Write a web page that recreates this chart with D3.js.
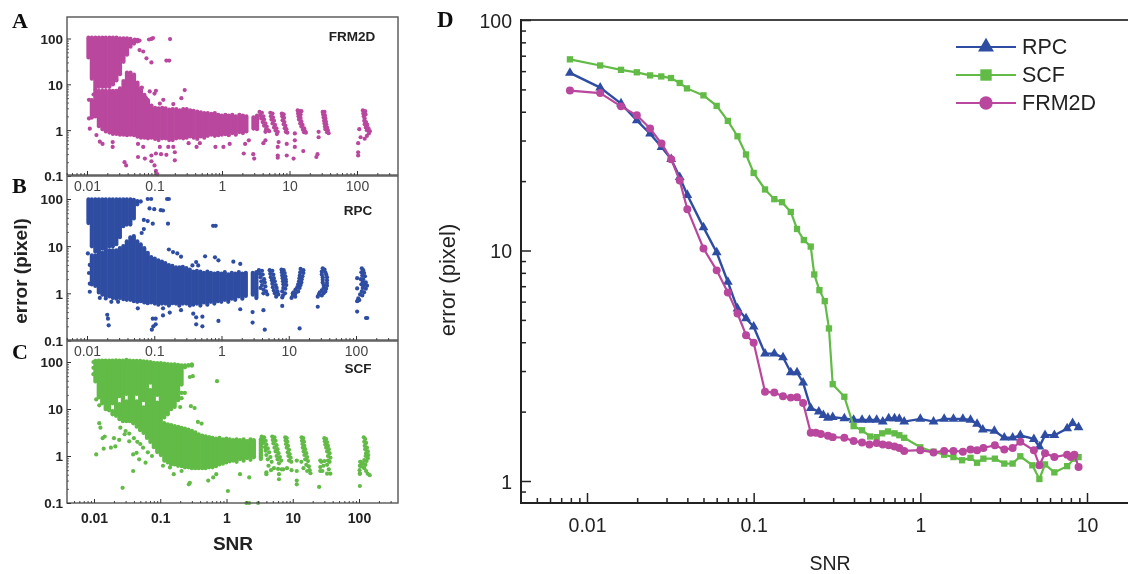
<!DOCTYPE html>
<html>
<head>
<meta charset="utf-8">
<script src="https://cdn.jsdelivr.net/npm/d3@7"></script>
<style>
  html, body { margin: 0; padding: 0; background: #fff; }
  svg { display: block; }
  text { font-family: "Liberation Sans", Arial, sans-serif; }
</style>
</head>
<body>
<svg width="1128" height="574"></svg>
<script>
// colours
const blue = '#2f4ea2';
const green = '#62bb46';
const magenta = '#b8479d';

const scatterXTicks = [0.01, 0.1, 1, 10, 100];
const scatterYTicks = [0.1, 1, 10, 100];
const scatterXMinor = [0.005, 0.006, 0.007, 0.008, 0.009, 0.02, 0.03, 0.04, 0.05, 0.06, 0.07, 0.08, 0.09, 0.2, 0.3, 0.4, 0.5, 0.6, 0.7, 0.8, 0.9, 2, 3, 4, 5, 6, 7, 8, 9, 20, 30, 40, 50, 60, 70, 80, 90, 200, 300];
const scatterYMinor = [20, 30, 40, 50, 60, 70, 80, 90, 2, 3, 4, 5, 6, 7, 8, 9, 0.2, 0.3, 0.4, 0.5, 0.6, 0.7, 0.8, 0.9];

// where the clouds are too dense to see single points, they are read as
// columns of points: one snr list, and for it the error range of each column
const cloudSnr = [0.0105, 0.0118, 0.0133, 0.015, 0.0169, 0.019, 0.0215, 0.0242, 0.0273, 0.0308, 0.0347, 0.0391, 0.0441, 0.0497, 0.056, 0.063, 0.071, 0.08, 0.09, 0.102, 0.115, 0.13, 0.146, 0.165, 0.186, 0.21, 0.236, 0.266, 0.3, 0.338, 0.381, 0.43, 0.485, 0.546, 0.616, 0.694, 0.783, 0.882, 0.994, 1.12, 1.26, 1.42, 1.6, 1.81, 2.04, 2.3, 2.59, 2.92, 3.3];

// panel A, FRM2D
const frmTopHigh = [115, 115, 115, 115, 115, 115, 115, 115, 115, 112, 112, 112, 108, 100, 95];
const frmTopLow = [35, 12, 7, 8, 8, 8, 8, 9, 11, 15, 28, 40, 60, 70, 85];
const frmBaseHigh = [null, 5, 8, 8, 8, 8, 8, 8, 8, 9, 13, 20, 20, 18, 12, 9, 6.5, 5, 3.8, 3.4, 3.3, 3.4, 3.3, 3.1, 3.2, 3.2, 3, 3.2, 3.2, 3, 2.9, 2.8, 2.7, 2.6, 2.6, 2.5, 2.6, 2.4, 2.3, 2.4, 2.3, 2.4, 2.2, 2.4, 2.3, 2.2, null, 2.1, 2.3];
const frmBaseLow = [null, 1.7, 1.8, 1.1, 0.95, 0.85, 0.8, 0.75, 0.75, 0.72, 0.72, 0.7, 0.72, 0.7, 0.65, 0.62, 0.62, 0.6, 0.62, 0.58, 0.55, 0.6, 0.6, 0.55, 0.55, 0.6, 0.62, 0.6, 0.62, 0.66, 0.62, 0.58, 0.66, 0.62, 0.68, 0.72, 0.68, 0.7, 0.72, 0.74, 0.7, 0.78, 0.72, 0.82, 0.78, 0.85, null, 0.98, 0.95];
const frmPoints = [
  [0.051, 95], [0.06, 90], [0.083, 95], [0.095, 102], [0.09, 98], [0.17, 97], [0.06, 56], [0.068, 52], [0.076, 37], [0.09, 30], [0.15, 33], [0.165, 33],
  [0.054, 8], [0.065, 8.5], [0.085, 7], [0.1, 6.3], [0.105, 7.2], [0.075, 5],
  [0.28, 7.5], [0.25, 5], [0.12, 3.8], [0.19, 3.7], [0.135, 4.6],
  [0.0107, 4.6], [0.0107, 1.8], [0.011, 1.08], [0.0125, 3], [0.0125, 6], [0.0138, 0.78], [0.0155, 0.56], [0.017, 0.5], [0.024, 0.43], [0.024, 0.55],
  [0.036, 0.2], [0.038, 0.17], [0.057, 0.26], [0.072, 0.24], [0.09, 0.28], [0.105, 0.31], [0.125, 0.3], [0.15, 0.29], [0.09, 0.21], [0.1, 0.17], [0.105, 0.13], [0.11, 0.11],
  [0.2, 0.22], [0.2, 0.33], [0.16, 0.43], [0.19, 0.43], [0.12, 0.43], [0.068, 0.43], [0.057, 0.5], [0.42, 0.43], [0.47, 0.52], [0.32, 0.52], [0.8, 0.43], [1.05, 0.43], [1.3, 0.5],
  [2.1, 0.31], [2.9, 0.3], [3, 0.24], [2.2, 0.5], [2.5, 0.6], [4.1, 0.52], [4.4, 0.6], [6.7, 0.28], [6.7, 0.25], [6.7, 0.43], [6.9, 0.55], [9.1, 0.28], [9.1, 0.5],
  [11.5, 0.24], [12, 0.43], [12, 0.6], [12, 0.85], [16, 0.35], [25, 0.26], [26, 0.3], [27, 0.7], [27, 0.92], [104, 0.28], [104, 0.33], [104, 0.52], [113, 0.7], [108, 1.05],
  [3.6, 2.5], [3.9, 2.4], [3.7, 2.1], [4.1, 2], [3.8, 1.8], [4.2, 1.7], [4, 1.5], [4.4, 1.4], [4.2, 1.25], [4.6, 1.2], [4.5, 1.05], [4.8, 1], [4.4, 0.92], [5, 0.95],
  [5.2, 2.4], [5.6, 2.3], [5.3, 2], [5.7, 1.9], [5.4, 1.7], [5.9, 1.6], [5.6, 1.4], [6.1, 1.3], [5.9, 1.15], [6.4, 1.1], [6.2, 0.98], [6.7, 0.92], [6.5, 0.82],
  [7.7, 2.3], [8.2, 2.2], [7.8, 2], [8.3, 1.85], [7.9, 1.65], [8.4, 1.5], [8.2, 1.35], [8.7, 1.25], [8.5, 1.1], [9, 1.05], [8.8, 0.92], [9.3, 0.88],
  [13.2, 2.7], [14.2, 2.6], [15, 2.6], [13.4, 2.3], [14.6, 2.2], [13.6, 2], [14.6, 1.85], [13.8, 1.7], [15, 1.55], [14.4, 1.4], [15.6, 1.3], [15, 1.2], [16.5, 1.1], [15.8, 1.02], [17, 0.95], [16.4, 0.9], [17.5, 0.88],
  [31, 2.5], [33, 2.5], [31.5, 2.2], [33.5, 2.1], [32, 1.9], [34, 1.8], [32.5, 1.6], [34.5, 1.55], [33, 1.4], [35, 1.35], [33.5, 1.2], [36, 1.15], [34, 1.05], [37, 1], [36, 0.9], [38, 0.86],
  [122, 2.7], [132, 2.6], [124, 2.3], [134, 2.2], [126, 2], [130, 1.8], [128, 1.6], [136, 1.5], [130, 1.35], [142, 1.3], [135, 1.15], [148, 1.1], [140, 1], [155, 0.95], [150, 0.85], [140, 0.75], [130, 0.65]
];

// panel B, RPC
const rpcTopHigh = [108, 108, 108, 108, 108, 108, 108, 108, 108, 108, 108, 108, 108, 106, 100, 98];
const rpcTopLow = [28, 9, 7, 7, 8, 8, 9, 9, 10, 14, 24, 26, 26, 35, 70, 80];
const rpcBaseHigh = [null, 7, 7, 8, 8, 9, 9, 9, 9, 10, 11, 14, 17, 18, 14, 12, 10, 8, 6.5, 6, 5.5, 5.2, 4.8, 4.4, 4.2, 3.9, 3.9, 4, 3.8, 3.5, 3.2, 3.3, 3.2, 3, 3.2, 3, 2.9, 3, 2.9, 3.1, 2.8, 3, 2.9, 3.1, 2.9, 3, null, 3, 3.1];
const rpcBaseLow = [null, 1.4, 1.3, 0.95, 0.85, 0.8, 0.78, 0.72, 0.7, 0.72, 0.68, 0.66, 0.66, 0.62, 0.6, 0.62, 0.58, 0.56, 0.58, 0.55, 0.52, 0.55, 0.55, 0.5, 0.56, 0.55, 0.5, 0.55, 0.55, 0.5, 0.52, 0.55, 0.5, 0.58, 0.52, 0.6, 0.55, 0.62, 0.6, 0.66, 0.6, 0.7, 0.66, 0.78, 0.7, 0.8, null, 0.85, 0.72];
const rpcPoints = [
  [0.08, 100], [0.09, 100], [0.165, 100], [0.155, 100], [0.085, 63], [0.1, 61], [0.125, 58], [0.135, 57], [0.16, 30], [0.07, 36], [0.08, 34], [0.095, 30], [0.75, 27], [0.82, 27], [0.07, 23], [0.065, 19],
  [0.165, 8.5], [0.19, 7.5], [0.22, 7], [0.25, 6], [0.57, 6.1], [0.8, 5.8], [0.9, 5], [1.5, 4.7], [1.9, 4.2], [0.42, 4.6], [0.37, 3.9], [0.45, 3.9],
  [0.0103, 7], [0.011, 4], [0.0107, 2.7], [0.011, 1.6], [0.011, 1.08], [0.0155, 0.8], [0.019, 0.78], [0.023, 0.66], [0.029, 0.66], [0.057, 0.48],
  [0.02, 0.35], [0.0205, 0.29], [0.021, 0.21], [0.095, 0.29], [0.105, 0.29], [0.105, 0.22], [0.097, 0.2], [0.092, 0.17], [0.135, 0.34], [0.17, 0.39], [0.135, 0.48], [0.25, 0.44],
  [0.38, 0.37], [0.42, 0.31], [0.52, 0.32], [0.42, 0.22], [0.52, 0.2], [0.9, 0.26], [2.9, 0.24], [4.4, 0.17], [14.5, 0.18], [2.9, 0.4], [1.9, 0.46], [4.2, 0.44], [8, 0.54],
  [11, 0.8], [11.5, 1], [27, 0.52], [27, 0.85], [104, 0.41], [104, 0.68], [104, 1.27], [104, 2.1], [147, 0.3], [141, 0.3],
  [3.6, 3.1], [4, 3], [3.7, 2.6], [4.1, 2.5], [3.8, 2.2], [4.3, 2], [3.9, 1.8], [4.4, 1.7], [4, 1.5], [4.5, 1.4], [4.2, 1.2], [3.8, 1.3], [4.6, 1.1], [4.2, 1], [4.8, 0.95],
  [5.2, 3.1], [5.7, 3], [5.3, 2.6], [5.9, 2.5], [5.4, 2.2], [6, 2.1], [5.6, 1.9], [6.2, 1.8], [5.7, 1.6], [6.4, 1.5], [5.8, 1.35], [6.6, 1.3], [6, 1.15], [6.8, 1.1], [6.2, 1], [7, 0.95], [6.5, 0.85],
  [7.8, 3.2], [8.4, 3.1], [7.9, 2.8], [8.7, 2.7], [8, 2.4], [8.9, 2.3], [8.1, 2.1], [9, 2], [8.2, 1.8], [9.1, 1.75], [8.3, 1.55], [9.2, 1.5], [8.3, 1.3], [8.9, 1.25], [8, 1.1], [8.8, 1], [8.2, 0.9], [8, 0.82],
  [15, 3.3], [16.5, 3.1], [14.8, 2.8], [16.5, 2.7], [14.6, 2.4], [16, 2.3], [14.4, 2.1], [15.6, 2], [14.2, 1.8], [15.4, 1.7], [13.8, 1.55], [15, 1.5], [13.4, 1.35], [14.5, 1.3], [12.6, 1.2], [13.8, 1.1], [11.8, 1.05], [12.6, 1], [11.5, 0.9], [12.5, 0.85],
  [32, 3.4], [34, 3.2], [31, 2.9], [35, 2.8], [31, 2.5], [36, 2.5], [32, 2.2], [37, 2.2], [32, 1.95], [37, 1.9], [32, 1.7], [37, 1.65], [33, 1.5], [37, 1.45], [33, 1.3], [36, 1.25], [31, 1.15], [35, 1.1], [29, 1.05], [33, 1], [28, 0.95], [31, 0.9],
  [122, 3.4], [128, 3.1], [120, 2.8], [132, 2.7], [124, 2.4], [136, 2.3], [118, 2], [128, 2], [126, 1.75], [140, 1.7], [120, 1.55], [132, 1.5], [146, 1.45], [126, 1.3], [140, 1.25], [122, 1.1], [132, 1.05], [115, 0.95], [124, 0.9], [108, 0.78], [112, 0.72], [106, 0.7]
];

// panel C, SCF (upper part has small holes, so many columns break in two)
const scfTopHigh = [116, 118, 118, 118, 118, 118, 120, 118, 118, 122, 118, 116, 116, 116, 114, 112, 110, 106, 104, 104, 102, 100, 98, 98, 96, 94, 94, 92, 92];
const scfTopLow = [35, 16, 12, 9, 8.5, 12, 6.5, 17, 5, 19, 5, 4.5, 19, 3.2, 14, 2.2, 33, 1.4, 18, 0.95, 6, 7, 9, 10, 14, 30, 70, 78, 80];
const scfBaseHigh = [null, null, null, null, null, 10, null, 14, null, 16, null, null, 16, null, 12, null, 28, null, 15, null, 5.5, 5.2, 5, 4.8, 4.6, 4.4, 4.2, 4, 3.8, 3.5, 3.2, 3, 2.9, 2.8, 2.7, 2.6, 2.7, 2.5, 2.6, 2.5, 2.4, 2.5, 2.4, 2.5, 2.3, 2.5, 2.4, null, 2.5];
const scfBaseLow = [null, null, null, null, null, 7, null, 5.5, null, 5, null, null, 3.8, null, 2.8, null, 1.8, null, 1.1, null, 0.72, 0.66, 0.6, 0.6, 0.56, 0.55, 0.52, 0.52, 0.5, 0.5, 0.5, 0.5, 0.5, 0.52, 0.52, 0.55, 0.6, 0.62, 0.66, 0.7, 0.72, 0.68, 0.78, 0.72, 0.82, 0.75, 0.85, null, 0.78];
const scfPoints = [
  [0.0098, 100], [0.0098, 75], [0.0098, 55], [0.28, 48], [0.31, 50], [0.3, 88], [0.72, 39], [0.21, 22], [0.235, 22], [0.17, 17], [0.21, 17], [0.2, 11], [0.29, 11.5], [0.33, 10.5], [0.37, 5.3], [0.42, 4.9],
  [0.0108, 16], [0.012, 12], [0.012, 5], [0.0125, 4], [0.0135, 2.4], [0.0145, 2.6], [0.0108, 1.08], [0.014, 1.43], [0.018, 1.5], [0.021, 1.6], [0.02, 2.4], [0.024, 2.2], [0.029, 2.9], [0.034, 2.05],
  [0.039, 1.08], [0.044, 1.17], [0.048, 0.85], [0.06, 0.72], [0.039, 0.48], [0.027, 0.21], [0.11, 0.62], [0.14, 0.57], [0.16, 0.41], [0.21, 0.48], [0.28, 0.27], [0.27, 0.25],
  [0.025, 4], [0.03, 3.4], [0.034, 3], [0.04, 2.4], [0.045, 2], [0.05, 1.8], [0.055, 1.5], [0.065, 1.2], [0.075, 1],
  [0.53, 0.3], [0.63, 0.35], [0.7, 0.41], [1.05, 0.18], [1.6, 0.41], [2.2, 0.35], [4, 0.41], [6.2, 0.32], [6.2, 0.41], [11.5, 0.25], [11.5, 0.3], [11.5, 0.48], [11.5, 0.8], [25, 0.22], [26, 0.48], [26, 0.8],
  [103, 0.23], [103, 0.42], [105, 0.62], [105, 0.75], [145, 0.39], [2, 0.1], [2.2, 0.1], [3, 0.1],
  [3.4, 2.6], [3.7, 2.5], [3.5, 2.2], [3.9, 2.1], [3.6, 1.9], [4, 1.75], [3.8, 1.55], [4.2, 1.45], [3.9, 1.3], [4.4, 1.2], [4, 1.05], [4.6, 0.95], [4.2, 0.85], [4.8, 0.75], [4.3, 0.62], [4.7, 0.5], [4, 0.45],
  [4.9, 2.6], [5.3, 2.5], [5, 2.2], [5.5, 2.1], [5.1, 1.85], [5.7, 1.7], [5.3, 1.5], [5.9, 1.4], [5.5, 1.25], [6.1, 1.15], [5.7, 1], [6.4, 0.95], [5.9, 0.85], [6.7, 0.8], [6.2, 0.7], [5.2, 0.55], [6, 0.53], [6.8, 0.52], [7.2, 0.52],
  [7.7, 2.5], [8.1, 2.4], [7.8, 2.15], [8.3, 2], [7.9, 1.8], [8.5, 1.65], [8.1, 1.5], [8.8, 1.35], [8.4, 1.2], [9, 1.1], [8.6, 1], [9.3, 0.92], [8.8, 0.8], [9.5, 0.75], [8.2, 0.55], [9.6, 0.5],
  [13.6, 2.5], [14.4, 2.4], [13.8, 2.1], [14.8, 2], [14, 1.8], [15, 1.65], [14.2, 1.5], [15.4, 1.4], [14.6, 1.25], [16, 1.15], [15, 1.05], [16.5, 0.95], [15.4, 0.85], [17, 0.78], [13.5, 0.75], [16, 0.65], [17.5, 0.6], [14.5, 0.55], [18, 0.5], [16.5, 0.48], [18.5, 0.43],
  [30, 2.4], [32, 2.3], [30.5, 2.05], [33, 1.95], [31, 1.75], [34, 1.65], [32, 1.5], [35, 1.4], [33, 1.25], [36, 1.15], [34, 1], [37, 0.92], [34, 0.8], [36, 0.75], [30, 0.78], [27, 0.75], [33, 0.65], [29, 0.62], [26, 0.58], [35, 0.52], [28, 0.48], [37, 0.42], [33, 0.42],
  [118, 2.5], [124, 2.3], [120, 2], [128, 1.9], [122, 1.65], [132, 1.5], [124, 1.4], [136, 1.25], [128, 1.15], [138, 1.05], [126, 1], [136, 0.9], [120, 0.82], [130, 0.78], [105, 0.75], [115, 0.7], [125, 0.65], [103, 0.62], [110, 0.6], [120, 0.55], [102, 0.5], [103, 0.42], [128, 0.48], [135, 0.42]
];

// panel D
const dXTicks = [0.01, 0.1, 1, 10];
const dYTicks = [1, 10, 100];
const dXMinor = [0.005, 0.006, 0.007, 0.008, 0.009, 0.02, 0.03, 0.04, 0.05, 0.06, 0.07, 0.08, 0.09, 0.2, 0.3, 0.4, 0.5, 0.6, 0.7, 0.8, 0.9, 2, 3, 4, 5, 6, 7, 8, 9];
const dYMinor = [90, 80, 70, 60, 50, 40, 30, 20, 9, 8, 7, 6, 5, 4, 3, 2, 0.9];

const rpcSnr = [0.0079, 0.012, 0.016, 0.0199, 0.0239, 0.028, 0.032, 0.036, 0.04, 0.05, 0.06, 0.07, 0.08, 0.09, 0.1, 0.117, 0.133, 0.15, 0.167, 0.182, 0.198, 0.22, 0.246, 0.262, 0.279, 0.298, 0.35, 0.398, 0.447, 0.495, 0.547, 0.595, 0.646, 0.7, 0.748, 0.8, 1, 1.2, 1.39, 1.58, 1.8, 2, 2.19, 2.37, 2.78, 3.19, 3.58, 3.98, 4.8, 5.18, 5.6, 6.37, 7.6, 8.2, 8.9];
const rpcErr = [59, 50.9, 43.4, 36.7, 32.1, 28.1, 24.9, 20.8, 17.4, 12.6, 9.8, 7.3, 5.6, 5.07, 4.67, 3.57, 3.57, 3.44, 2.96, 2.96, 2.67, 2.07, 2, 1.93, 1.88, 1.89, 1.87, 1.84, 1.84, 1.84, 1.84, 1.81, 1.87, 1.87, 1.86, 1.81, 1.86, 1.81, 1.86, 1.86, 1.86, 1.84, 1.77, 1.67, 1.65, 1.54, 1.54, 1.58, 1.52, 1.41, 1.58, 1.58, 1.69, 1.78, 1.71];
const scfSnr = [0.0079, 0.012, 0.016, 0.0199, 0.0239, 0.0279, 0.0319, 0.036, 0.0398, 0.05, 0.06, 0.07, 0.08, 0.09, 0.1, 0.117, 0.133, 0.148, 0.167, 0.182, 0.2, 0.22, 0.231, 0.248, 0.267, 0.283, 0.298, 0.35, 0.398, 0.447, 0.5, 0.547, 0.59, 0.64, 0.7, 0.748, 0.8, 1, 1.2, 1.39, 1.58, 1.78, 2, 2.19, 2.39, 2.8, 3.19, 3.58, 3.98, 4.7, 5.18, 5.6, 6.37, 7.6, 8.4, 8.9];
const scfErr = [67.5, 63.5, 60.8, 59.3, 57.5, 56.9, 56, 53.3, 50.5, 47.1, 42.4, 36.5, 31.3, 26.1, 21.7, 18.4, 16.7, 16.2, 14.7, 12.4, 11.1, 10.4, 7.87, 6.73, 6.03, 4.59, 2.63, 2.32, 1.73, 1.66, 1.56, 1.55, 1.61, 1.64, 1.61, 1.58, 1.54, 1.4, 1.34, 1.3, 1.27, 1.23, 1.26, 1.2, 1.25, 1.25, 1.19, 1.19, 1.28, 1.17, 1.02, 1.18, 1.09, 1.16, 1.25, 1.27];
const frmSnr = [0.0079, 0.012, 0.016, 0.0199, 0.0239, 0.028, 0.032, 0.036, 0.04, 0.05, 0.06, 0.07, 0.08, 0.09, 0.1, 0.117, 0.133, 0.15, 0.167, 0.182, 0.198, 0.22, 0.236, 0.253, 0.279, 0.298, 0.35, 0.398, 0.447, 0.495, 0.547, 0.595, 0.646, 0.7, 0.748, 0.8, 1, 1.2, 1.39, 1.58, 1.8, 2, 2.19, 2.39, 2.8, 3.19, 3.58, 3.98, 4.8, 5.18, 5.6, 6.37, 7.6, 8, 8.4, 8.9];
const frmErr = [49.4, 48.2, 42.2, 38.6, 33.8, 29.1, 24.9, 20.1, 15.1, 10.2, 8.2, 6.58, 5.33, 4.29, 3.98, 2.44, 2.42, 2.33, 2.3, 2.31, 2.18, 1.62, 1.62, 1.6, 1.57, 1.55, 1.54, 1.49, 1.47, 1.44, 1.46, 1.44, 1.43, 1.41, 1.39, 1.35, 1.36, 1.33, 1.35, 1.35, 1.34, 1.37, 1.36, 1.39, 1.43, 1.37, 1.39, 1.48, 1.36, 1.17, 1.32, 1.27, 1.3, 1.27, 1.3, 1.15];

const legendNames = ['RPC', 'SCF', 'FRM2D'];

const svg = d3.select('svg');
const defs = svg.append('defs');
defs.append('filter').attr('id', 'soft')
  .attr('x', '-2%').attr('y', '-2%').attr('width', '104%').attr('height', '104%')
  .append('feGaussianBlur').attr('stdDeviation', 0.45);

const root = svg.append('g').attr('filter', 'url(#soft)');

function drawTicks(g, axis, values, size, color, width) {
  const a = g.append('g').call(axis.tickValues(values).tickSize(size).tickSizeOuter(0));
  a.select('.domain').remove();
  a.selectAll('line').attr('stroke', color).attr('stroke-width', width);
  return a;
}

function scatterPanel(opt) {
  const x = d3.scaleLog().domain([0.01, 100]).range(opt.xRange);
  const y = d3.scaleLog().domain([0.1, 100]).range(opt.yRange);
  const g = root.append('g');

  // columns of the dense part; the range read is the outer edge of the dots
  const columns = [];
  [[opt.topHigh, opt.topLow], [opt.baseHigh, opt.baseLow]].forEach(pair => {
    pair[0].forEach((high, i) => {
      if (high != null) columns.push({ snr: cloudSnr[i], high: high, low: pair[1][i] });
    });
  });
  g.selectAll('line.col')
    .data(columns)
    .enter().append('line')
    .attr('class', 'col')
    .attr('x1', d => x(d.snr))
    .attr('x2', d => x(d.snr))
    .attr('y1', d => y(d.high) + 2)
    .attr('y2', d => y(d.low) - 2)
    .attr('stroke', opt.color)
    .attr('stroke-width', 4.2)
    .attr('stroke-linecap', 'round');

  g.selectAll('circle.pt')
    .data(opt.points)
    .enter().append('circle')
    .attr('class', 'pt')
    .attr('cx', d => x(d[0]))
    .attr('cy', d => y(d[1]))
    .attr('r', 2.1)
    .attr('fill', opt.color);

  g.append('rect')
    .attr('x', opt.frame[0]).attr('y', opt.frame[1])
    .attr('width', opt.frame[2] - opt.frame[0]).attr('height', opt.frame[3] - opt.frame[1])
    .attr('fill', 'none').attr('stroke', '#555').attr('stroke-width', 1.4);

  // ticks point into the plot
  const bottom = g.append('g').attr('transform', `translate(0,${opt.frame[3]})`);
  drawTicks(bottom, d3.axisBottom(x).tickFormat(''), scatterXMinor, -2, '#333', 0.9);
  const xMajor = drawTicks(bottom, d3.axisBottom(x).tickFormat(d => d), scatterXTicks, -4, '#333', 1);
  xMajor.selectAll('text')
    .attr('y', opt.xLabelDy)
    .attr('dy', 0)
    .attr('fill', opt.xLabelFill)
    .attr('font-size', 14)
    .attr('font-weight', opt.xLabelWeight);

  const left = g.append('g').attr('transform', `translate(${opt.frame[0]},0)`);
  drawTicks(left, d3.axisLeft(y).tickFormat(''), scatterYMinor, -2, '#444', 0.8);
  const yMajor = drawTicks(left, d3.axisLeft(y).tickFormat(d => d), scatterYTicks, -4, '#333', 1);
  yMajor.selectAll('text')
    .attr('x', -4)
    .attr('dy', '0.36em')
    .attr('fill', '#222')
    .attr('font-size', 13.5)
    .attr('font-weight', 'bold');

  g.append('text').attr('x', opt.name[1]).attr('y', opt.name[2])
    .attr('text-anchor', 'middle').attr('font-size', 13.5).attr('font-weight', 'bold').attr('fill', '#222')
    .text(opt.name[0]);
  g.append('text').attr('x', 12).attr('y', opt.letterY)
    .style('font-family', '"Liberation Serif", serif')
    .attr('font-size', 22).attr('font-weight', 'bold').attr('fill', '#111')
    .text(opt.letter);
}

scatterPanel({
  letter: 'A', letterY: 28, name: ['FRM2D', 352, 41], color: magenta,
  frame: [67, 17, 398, 175], xRange: [87, 357], yRange: [176, 38.5],
  xLabelDy: 16, xLabelFill: '#444', xLabelWeight: 'normal',
  topHigh: frmTopHigh, topLow: frmTopLow, baseHigh: frmBaseHigh, baseLow: frmBaseLow,
  points: frmPoints
});
scatterPanel({
  letter: 'B', letterY: 193, name: ['RPC', 358, 215], color: blue,
  frame: [67, 176, 398, 340], xRange: [87, 356], yRange: [340.5, 199],
  xLabelDy: 16, xLabelFill: '#444', xLabelWeight: 'normal',
  topHigh: rpcTopHigh, topLow: rpcTopLow, baseHigh: rpcBaseHigh, baseLow: rpcBaseLow,
  points: rpcPoints
});
scatterPanel({
  letter: 'C', letterY: 359, name: ['SCF', 358, 373], color: green,
  frame: [67, 341, 398, 503], xRange: [94, 359], yRange: [503, 362],
  xLabelDy: 20, xLabelFill: '#222', xLabelWeight: 'bold',
  topHigh: scfTopHigh, topLow: scfTopLow, baseHigh: scfBaseHigh, baseLow: scfBaseLow,
  points: scfPoints
});

root.append('text')
  .attr('transform', 'translate(27,271) rotate(-90)')
  .attr('text-anchor', 'middle').attr('font-size', 19).attr('font-weight', 'bold').attr('fill', '#222')
  .text('error (pixel)');
root.append('text')
  .attr('x', 233).attr('y', 550)
  .attr('text-anchor', 'middle').attr('font-size', 19).attr('font-weight', 'bold').attr('fill', '#222')
  .text('SNR');

// panel D
const xD = d3.scaleLog().domain([0.01, 10]).range([587, 1087]);
const yD = d3.scaleLog().domain([1, 100]).range([481, 20]);
const d = root.append('g');
const bottomD = 503, leftD = 521;

d.append('line').attr('x1', leftD).attr('x2', 1128).attr('y1', 20).attr('y2', 20)
  .attr('stroke', '#444').attr('stroke-width', 2);
d.append('line').attr('x1', leftD).attr('x2', 1128).attr('y1', bottomD).attr('y2', bottomD)
  .attr('stroke', '#222').attr('stroke-width', 2);
d.append('line').attr('x1', leftD).attr('x2', leftD).attr('y1', 19).attr('y2', bottomD + 1)
  .attr('stroke', '#222').attr('stroke-width', 2);

const axisBottomD = d.append('g').attr('transform', `translate(0,${bottomD})`);
drawTicks(axisBottomD, d3.axisBottom(xD).tickFormat(''), dXMinor, -5, '#222', 1.5);
const xMajorD = drawTicks(axisBottomD, d3.axisBottom(xD).tickFormat(d => d), dXTicks, -10, '#222', 1.5);
xMajorD.selectAll('text').attr('y', 29).attr('dy', 0).attr('font-size', 19.5).attr('fill', '#222');

const axisLeftD = d.append('g').attr('transform', `translate(${leftD},0)`);
drawTicks(axisLeftD, d3.axisLeft(yD).tickFormat(''), dYMinor, -5, '#222', 1.5);
const yMajorD = drawTicks(axisLeftD, d3.axisLeft(yD).tickFormat(d => d), dYTicks, -10, '#222', 1.5);
yMajorD.selectAll('text').attr('x', -9).attr('dy', '0.36em').attr('font-size', 19.5).attr('fill', '#222');

d.append('text').attr('x', 830).attr('y', 570)
  .attr('text-anchor', 'middle').attr('font-size', 19.5).attr('fill', '#222').text('SNR');
d.append('text').attr('transform', 'translate(455,280) rotate(-90)')
  .attr('text-anchor', 'middle').attr('font-size', 22).attr('fill', '#222').text('error (pixel)');
d.append('text').attr('x', 437).attr('y', 27)
  .style('font-family', '"Liberation Serif", serif')
  .attr('font-size', 23).attr('font-weight', 'bold').attr('fill', '#111').text('D');

const seriesD = [
  { snr: rpcSnr, err: rpcErr, color: blue, shape: d3.symbolTriangle, size: 42, legendSize: 110, width: 2.4 },
  { snr: scfSnr, err: scfErr, color: green, shape: d3.symbolSquare, size: 40, legendSize: 130, width: 2.2 },
  { snr: frmSnr, err: frmErr, color: magenta, shape: d3.symbolCircle, size: 50, legendSize: 140, width: 2.2 }
];
const line = d3.line().x(p => xD(p[0])).y(p => yD(p[1]));

seriesD.forEach(s => {
  const pts = s.snr.map((v, i) => [v, s.err[i]]);
  const gs = d.append('g');
  gs.append('path').attr('d', line(pts)).attr('fill', 'none').attr('stroke', s.color).attr('stroke-width', s.width);
  gs.selectAll('path.mark').data(pts).enter().append('path')
    .attr('class', 'mark')
    .attr('d', d3.symbol().type(s.shape).size(s.size))
    .attr('transform', p => `translate(${xD(p[0])},${yD(p[1])})`)
    .attr('fill', s.color);
});

// legend
legendNames.forEach((name, i) => {
  const s = seriesD[i];
  const ly = 47 + i * 28;
  d.append('line').attr('x1', 956).attr('x2', 1016).attr('y1', ly).attr('y2', ly)
    .attr('stroke', s.color).attr('stroke-width', 2);
  d.append('path').attr('d', d3.symbol().type(s.shape).size(s.legendSize)())
    .attr('transform', `translate(986,${ly})`).attr('fill', s.color);
  d.append('text').attr('x', 1022).attr('y', ly + 7)
    .attr('font-size', 21.5).attr('fill', '#222').text(name);
});
</script>
</body>
</html>
